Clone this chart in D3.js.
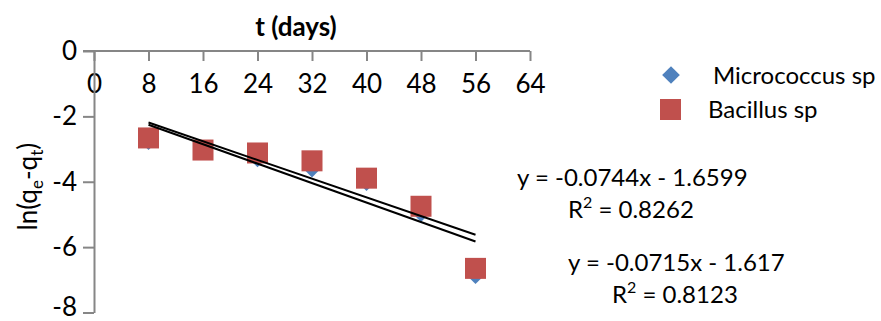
<!DOCTYPE html>
<html>
<head>
<meta charset="utf-8">
<script src="https://cdn.jsdelivr.net/npm/d3@7"></script>
<style>
  body { margin: 0; background: #fff; }
  svg { display: block; font-family: Lato, "Open Sans", sans-serif; }
</style>
</head>
<body>
<div id="chart"></div>
<script>
// values
const days = [8, 16, 24, 32, 40, 48, 56];
const micrococcus = [-2.78, -3.05, -3.31, -3.62, -4.03, -4.98, -6.88];
const bacillus = [-2.66, -3.03, -3.12, -3.36, -3.89, -4.75, -6.65];
const seriesNames = ["Micrococcus sp", "Bacillus sp"];
const slopes = [-0.0744, -0.0715];
const intercepts = [-1.6599, -1.617];
const rSquared = [0.8262, 0.8123];
const xTicks = [0, 8, 16, 24, 32, 40, 48, 56, 64];
const yTicks = [0, -2, -4, -6, -8];

const width = 881, height = 321;
const axisColor = "#868686";
const colors = ["#4F81BD", "#C0504D"];
const fontSize = 26;

const svg = d3.select("#chart").append("svg")
    .attr("width", width)
    .attr("height", height);

const x = d3.scaleLinear().domain([0, 64]).range([94, 530]);
const y = d3.scaleLinear().domain([-8, 0]).range([312.5, 51]);

// x axis sits on y = 0, ticks pointing down
const xAxis = svg.append("g")
    .attr("transform", `translate(0, ${y(0)})`)
    .call(d3.axisBottom(x).tickValues(xTicks).tickSize(10).tickSizeOuter(0).tickPadding(14));

// y axis on x = 0
const yAxis = svg.append("g")
    .attr("transform", `translate(${x(0)}, 0)`)
    .call(d3.axisLeft(y).tickValues(yTicks).tickFormat(d => String(d)).tickSize(11).tickSizeOuter(0).tickPadding(6));

[xAxis, yAxis].forEach(g => {
    g.select(".domain").attr("stroke", axisColor).attr("stroke-width", 2);
    g.selectAll(".tick line").attr("stroke", axisColor).attr("stroke-width", 2);
    g.selectAll(".tick text").attr("fill", "#000").style("font-size", fontSize + "px").style("font-family", "Lato, sans-serif");
});
// the left tick of the y axis also extends the x line
xAxis.select(".domain").attr("d", `M${x(0) - 11},0H${x(64)}`);
// lowest label sits close to the bottom edge
yAxis.selectAll(".tick text").filter(d => d === -8).attr("dy", "0.1em");

// title
svg.append("text")
    .attr("x", 296)
    .attr("y", 36)
    .attr("text-anchor", "middle")
    .style("font-size", fontSize + "px")
    .style("font-weight", "bold")
    .text("t (days)");

// y label
const yLabel = svg.append("text")
    .attr("transform", `translate(37, ${y(-4.15)}) rotate(-90)`)
    .attr("text-anchor", "middle")
    .style("font-size", fontSize + "px");
yLabel.append("tspan").text("ln(q");
yLabel.append("tspan").attr("dy", 6).style("font-size", "17px").text("e");
yLabel.append("tspan").attr("dy", -6).text("-q");
yLabel.append("tspan").attr("dy", 6).style("font-size", "17px").text("t");
yLabel.append("tspan").attr("dy", -6).text(")");

const diamond = d3.symbol().type(d3.symbolDiamond2).size(170);

// Micrococcus diamonds
svg.append("g").selectAll("path")
    .data(days.map((d, i) => ({ t: d, v: micrococcus[i] })))
    .enter().append("path")
    .attr("d", diamond)
    .attr("transform", d => `translate(${x(d.t)}, ${y(d.v)})`)
    .attr("fill", colors[0]);

// Bacillus squares
const sq = 21;
svg.append("g").selectAll("rect")
    .data(days.map((d, i) => ({ t: d, v: bacillus[i] })))
    .enter().append("rect")
    .attr("x", d => x(d.t) - sq / 2)
    .attr("y", d => y(d.v) - sq / 2)
    .attr("width", sq)
    .attr("height", sq)
    .attr("fill", colors[1]);

// trendlines from the fitted equations
const t0 = d3.min(days), t1 = d3.max(days);
slopes.forEach((m, i) => {
    svg.append("line")
        .attr("x1", x(t0)).attr("y1", y(m * t0 + intercepts[i]))
        .attr("x2", x(t1)).attr("y2", y(m * t1 + intercepts[i]))
        .attr("stroke", "#000")
        .attr("stroke-width", 2);
});

// legend
const legend = svg.append("g");
legend.append("path")
    .attr("d", d3.symbol().type(d3.symbolDiamond2).size(200))
    .attr("transform", "translate(671, 75)")
    .attr("fill", colors[0]);
legend.append("rect")
    .attr("x", 660).attr("y", 99)
    .attr("width", 21).attr("height", 21)
    .attr("fill", colors[1]);
legend.append("text").attr("x", 713).attr("y", 84).style("font-size", "24px").text(seriesNames[0]);
legend.append("text").attr("x", 708).attr("y", 118).style("font-size", "24px").text(seriesNames[1]);

// equations
const eqPos = [[517, 186, 568, 218], [568, 271, 612, 303]];
slopes.forEach((m, i) => {
    const p = eqPos[i];
    svg.append("text")
        .attr("x", p[0]).attr("y", p[1])
        .style("font-size", "24px")
        .text(`y = ${m}x - ${Math.abs(intercepts[i])}`);
    const r = svg.append("text")
        .attr("x", p[2]).attr("y", p[3])
        .style("font-size", "24px");
    r.append("tspan").text("R");
    r.append("tspan").attr("dy", -10).style("font-size", "16px").text("2");
    r.append("tspan").attr("dy", 10).text(` = ${rSquared[i]}`);
});
</script>
</body>
</html>
